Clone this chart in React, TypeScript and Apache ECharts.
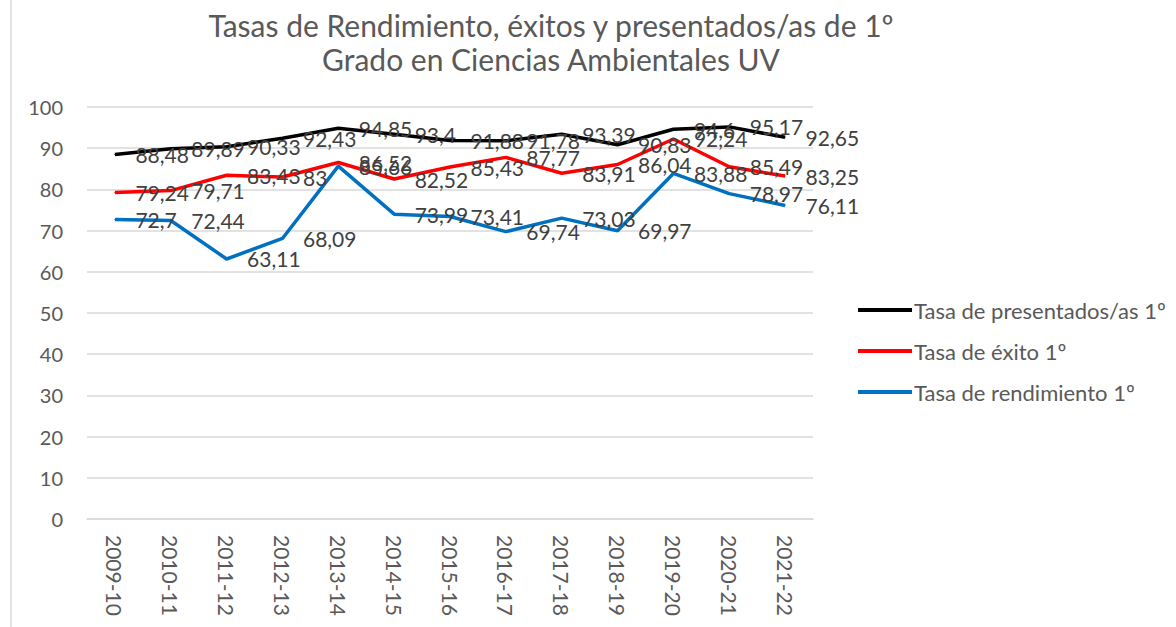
import React, { useEffect, useRef } from "react";
import * as echarts from "echarts";

const categories = ["2009-10", "2010-11", "2011-12", "2012-13", "2013-14", "2014-15", "2015-16", "2016-17", "2017-18", "2018-19", "2019-20", "2020-21", "2021-22"];
const presentados = [88.48, 89.89, 90.33, 92.43, 94.85, 93.4, 91.88, 91.78, 93.39, 90.83, 94.6, 95.17, 92.65];
const exito = [79.24, 79.71, 83.43, 83, 86.52, 82.52, 85.43, 87.77, 83.91, 86.04, 92.24, 85.49, 83.25];
const rendimiento = [72.7, 72.44, 63.11, 68.09, 85.66, 73.99, 73.41, 69.74, 73.03, 69.97, 83.88, 78.97, 76.11];
const seriesNames = ["Tasa de presentados/as 1º", "Tasa de éxito 1º", "Tasa de rendimiento 1º"];
const titleLines = ["Tasas de Rendimiento, éxitos y presentados/as de 1º", "Grado en Ciencias Ambientales UV"];

const FONT = "Lato, 'Open Sans', sans-serif";

export default function App() {
  const ref = useRef<HTMLDivElement>(null);
  useEffect(() => {
    if (!ref.current) return;
    const chart = echarts.init(ref.current, undefined, { renderer: "svg" });
    const fmt = (p: any) => String(p.value).replace(".", ",");
    const mk = (name: string, data: number[], color: string) => ({
      name,
      type: "line",
      data,
      color,
      symbol: "circle",
      symbolSize: 1,
      itemStyle: { color },
      lineStyle: { color, width: 3.5 },
      label: {
        show: true,
        position: "right",
        distance: 20,
        formatter: fmt,
        color: "#404040",
        fontSize: 21,
        fontFamily: FONT,
      },
    });
    chart.setOption({
      animation: false,
      textStyle: { fontFamily: FONT },
      title: {
        text: titleLines.join("\n"),
        left: 546,
        textAlign: "center",
        top: 3,
        textStyle: { fontSize: 30, fontWeight: "normal", color: "#595959", lineHeight: 34, fontFamily: FONT },
      },
      graphic: [
        { type: "line", shape: { x1: 11, y1: 0, x2: 11, y2: 627 }, style: { stroke: "#d9d9d9", lineWidth: 1.5 } },
      ],
      legend: {
        orient: "vertical",
        left: 853,
        top: 292,
        icon: "rect",
        itemWidth: 54,
        itemHeight: 4,
        itemGap: 15,
        textStyle: { fontSize: 22, color: "#595959", fontFamily: FONT, lineHeight: 26, padding: [0, 0, 0, -3] },
        data: seriesNames,
      },
      grid: { left: 87, right: 363, top: 107, bottom: 108, containLabel: false },
      xAxis: {
        type: "category",
        data: categories,
        boundaryGap: true,
        axisLine: { show: true, lineStyle: { color: "#d9d9d9", width: 1.5 } },
        axisTick: { show: false },
        axisLabel: { rotate: -90, margin: 16, fontSize: 21, color: "#595959", fontFamily: FONT, interval: 0 },
      },
      yAxis: {
        type: "value",
        min: 0,
        max: 100,
        interval: 10,
        axisLine: { show: false },
        axisTick: { show: false },
        axisLabel: { margin: 24, fontSize: 20, color: "#595959", fontFamily: FONT },
        splitLine: { lineStyle: { color: "#d9d9d9", width: 1.5 } },
      },
      series: [
        mk(seriesNames[2], rendimiento, "#0070C0"),
        mk(seriesNames[1], exito, "#FF0000"),
        mk(seriesNames[0], presentados, "#000000"),
      ],
    });
    return () => chart.dispose();
  }, []);
  return <div ref={ref} style={{ position: "fixed", left: 0, top: 0, width: 1176, height: 627, background: "#fff" }} />;
}
